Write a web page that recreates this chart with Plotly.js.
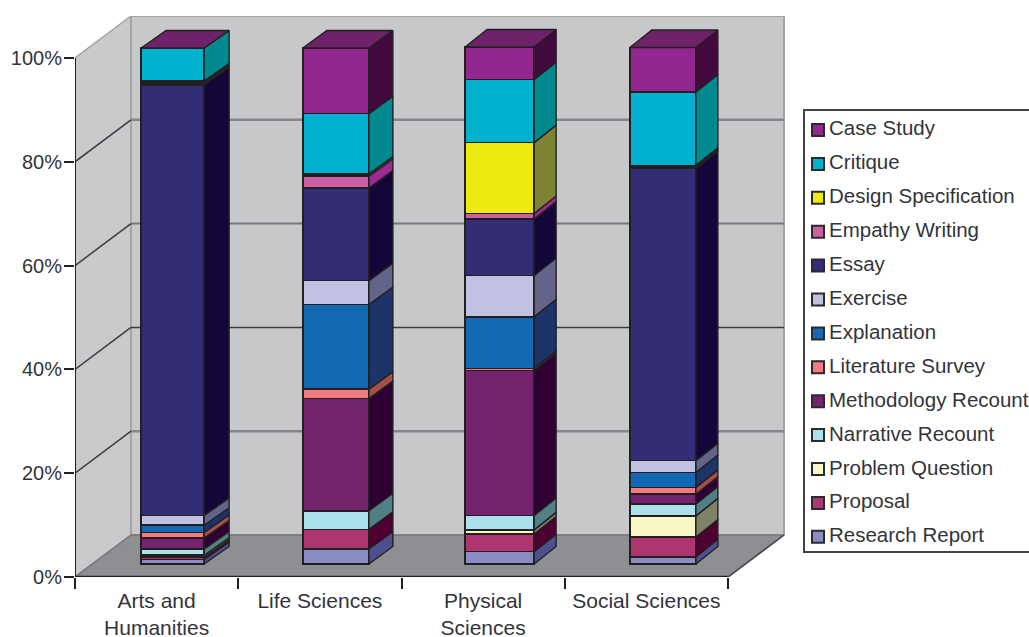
<!DOCTYPE html>
<html>
<head>
<meta charset="utf-8">
<script src="https://cdn.plot.ly/plotly-3.0.1.min.js"></script>
<style>
html, body { margin: 0; padding: 0; background: #fff; overflow: hidden; }
#chart { width: 1029px; height: 637px; }
</style>
</head>
<body>
<div id="chart"></div>
<script>
// Share of assignment genres per discipline, stacked bottom to top.
const disciplines = ["Arts and<br>Humanities", "Life Sciences", "Physical<br>Sciences", "Social Sciences"];

const researchReport     = [0.9, 2.9, 2.4, 1.4];
const proposal           = [0.4, 3.8, 3.4, 3.8];
const problemQuestion    = [0.4, 0, 0.8, 4.1];
const narrativeRecount   = [1.2, 3.6, 2.8, 2.3];
const methodologyRecount = [2.1, 21.7, 28.0, 1.9];
const literatureSurvey   = [1.1, 1.8, 0.4, 1.3];
const explanation        = [1.4, 16.4, 10.0, 2.9];
const exercise           = [1.9, 4.6, 8.0, 2.3];
const essay              = [83.3, 17.9, 10.9, 56.5];
const empathyWriting     = [0.35, 2.3, 1.1, 0.3];
const designSpecification = [0.35, 0.4, 13.7, 0.3];
const critique           = [6.4, 11.7, 12.2, 14.2];
const caseStudy          = [0, 12.7, 6.3, 8.6];

const seriesNames = ["Research Report", "Proposal", "Problem Question", "Narrative Recount",
  "Methodology Recount", "Literature Survey", "Explanation", "Exercise", "Essay",
  "Empathy Writing", "Design Specification", "Critique", "Case Study"];
const seriesValues = [researchReport, proposal, problemQuestion, narrativeRecount,
  methodologyRecount, literatureSurvey, explanation, exercise, essay,
  empathyWriting, designSpecification, critique, caseStudy];
const frontColors = ["#8a8cc4", "#ae3670", "#f9f7c4", "#ace0ea", "#74236f", "#f47b80", "#1568b4",
  "#c1c1e1", "#322d74", "#cc5fa4", "#eee90f", "#00b2cd", "#92278f"];
const sideColors = ["#4d4f8f", "#4f0030", "#7f8268", "#528087", "#2f0034", "#a34f4a", "#1c3468",
  "#62648a", "#130739", "#9a2a94", "#7f8434", "#008a8f", "#430a3f"];

const percentTicks = [0, 20, 40, 60, 80, 100];
const percentLabels = ["0%", "20%", "40%", "60%", "80%", "100%"];

// Projection of the chart box, in axis units.
const W = 1029, H = 637;
const plot = { left: 75, right: 785, top: 16, bottom: 577 };
const unitX = 163.25, unitY = 5.19;
const xMin = -0.5;
const xMax = xMin + (plot.right - plot.left) / unitX;
const yMax = (plot.bottom - plot.top) / unitY;
const wallDx = 56 / unitX, wallDy = 42 / unitY;
const barDy = 17.5 / 5.17;
const xEnd = xMin + disciplines.length;
const ink = "#231f20";

// Column placement: centre offset, width and side depth per discipline, in pixels.
const columnOffset = [16, 16, 16.5, 16.5];
const columnWidth = [63, 66, 69, 66];
const columnDepth = [25, 24, 22, 22];

const positions = disciplines.map((_, i) => i);
const barX = positions.map((p, i) => p + columnOffset[i] / unitX);
const barW = columnWidth.map(w => w / unitX);
const barD = columnDepth.map(d => d / unitX);
const px = v => v / W;
const py = v => 1 - v / H;

function region(xs, ys, fill, lineColor, lineWidth) {
  return { type: "scatter", mode: "lines", x: xs, y: ys, fill: "toself", fillcolor: fill,
    line: { color: lineColor, width: lineWidth }, cliponaxis: false, hoverinfo: "skip", showlegend: false };
}
function rule(xs, ys, color, width) {
  return { type: "scatter", mode: "lines", x: xs, y: ys, line: { color: color, width: width },
    cliponaxis: false, hoverinfo: "skip", showlegend: false };
}

const traces = [];

// Chart box: left wall, back wall, floor.
traces.push(region([xMin, xMin + wallDx, xMin + wallDx, xMin, xMin],
  [0, wallDy, 100 + wallDy, 100, 0], "#c9cacc", "#a3a4a6", 1.5));
traces.push(region([xMin + wallDx, xEnd + wallDx, xEnd + wallDx, xMin + wallDx, xMin + wallDx],
  [wallDy, wallDy, 100 + wallDy, 100 + wallDy, wallDy], "#c7c8ca", "#a3a4a6", 2));
traces.push(region([xMin, xMin + wallDx, xEnd + wallDx, xEnd, xMin],
  [0, wallDy, wallDy, 0, 0], "#8e8f92", "#77787a", 1.5));

// Gridlines wrap from the left wall onto the back wall.
const gridStyle = { 20: ["#85868a", 2.5], 40: ["#3d3d40", 1.5], 60: ["#77787b", 2], 80: ["#85868a", 2.5] };
percentTicks.filter(t => t > 0 && t < 100).forEach(t => {
  traces.push(rule([xMin + wallDx, xEnd + wallDx], [t + wallDy, t + wallDy], gridStyle[t][0], gridStyle[t][1]));
  traces.push(rule([xMin, xMin + wallDx], [t, t + wallDy], "#3d3d40", 1.5));
});

// Axis lines along the front of the box.
traces.push(rule([xMin, xMin], [0, 100], ink, 2));
traces.push(rule([xMin, xEnd], [0, 0], ink, 2.5));
traces.push(rule([xEnd, xEnd + wallDx], [0, wallDy], "#4a4a4c", 1.5));

// Front faces of the stacked columns.
seriesNames.forEach((name, s) => {
  traces.push({ type: "bar", name: name, x: barX, y: seriesValues[s], yaxis: "y2", width: barW,
    marker: { color: frontColors[s], line: { color: ink, width: 1.6 } }, showlegend: false });
});

// Side faces follow the running totals of the stack.
const totals = positions.map(() => 0);
seriesNames.forEach((name, s) => {
  const xs = [], ys = [];
  positions.forEach((_, c) => {
    const v = seriesValues[s][c];
    const low = totals[c], high = low + v;
    totals[c] = high;
    if (v > 0) {
      const r = barX[c] + barW[c] / 2;
      xs.push(r, r + barD[c], r + barD[c], r, r, null);
      ys.push(low, low + barDy, high + barDy, high, low, null);
    }
  });
  const face = region(xs, ys, sideColors[s], ink, 1.4);
  face.yaxis = "y2";
  traces.push(face);
});

// Top faces close each column.
const topX = [], topY = [];
positions.forEach((_, c) => {
  const l = barX[c] - barW[c] / 2, r = barX[c] + barW[c] / 2;
  topX.push(l, r, r + barD[c], l + barD[c], l, null);
  topY.push(totals[c], totals[c], totals[c] + barDy, totals[c] + barDy, totals[c], null);
});
const topFace = region(topX, topY, "#6e2269", ink, 1.4);
topFace.yaxis = "y2";
traces.push(topFace);

// Key box, listed top to bottom as the reverse of the stack.
const shapes = [{ type: "rect", xref: "paper", yref: "paper", x0: px(804), x1: px(1040), y0: py(552), y1: py(110),
  fillcolor: "#ffffff", line: { color: "#444446", width: 2 } }];
const annotations = [];
seriesNames.slice().reverse().forEach((name, i) => {
  const s = seriesNames.length - 1 - i;
  const cy = 130 + i * 33.9;
  shapes.push({ type: "rect", xref: "paper", yref: "paper", x0: px(812), x1: px(824), y0: py(cy + 6), y1: py(cy - 6),
    fillcolor: frontColors[s], line: { color: "#2b2b2d", width: 2 } });
  annotations.push({ xref: "paper", yref: "paper", x: px(827), y: py(cy - 2), xanchor: "left", yanchor: "middle",
    text: name, showarrow: false, align: "left", font: { family: "Liberation Sans, Arial, sans-serif", size: 20.5, color: "#33343a" } });
});

const layout = {
  width: W, height: H,
  margin: { l: 0, r: 0, t: 0, b: 0 },
  paper_bgcolor: "#ffffff", plot_bgcolor: "rgba(0,0,0,0)",
  font: { family: "Liberation Sans, Arial, sans-serif", size: 20, color: "#33343a" },
  barmode: "stack", showlegend: false,
  shapes: shapes, annotations: annotations,
  xaxis: {
    domain: [plot.left / W, plot.right / W], range: [xMin, xMax], automargin: false,
    tickmode: "array", tickvals: positions, ticktext: disciplines, ticks: "", tickangle: 0,
    tickfont: { size: 21 }, ticklabelstandoff: 9, showgrid: false, zeroline: false, showline: false,
    minor: { tickmode: "array", tickvals: positions.map(p => p - 0.5).concat([xEnd]),
      ticks: "outside", ticklen: 11, tickwidth: 2, tickcolor: ink, showgrid: false }
  },
  yaxis: {
    domain: [1 - plot.bottom / H, 1 - plot.top / H], range: [0, yMax], automargin: false,
    tickmode: "array", tickvals: percentTicks, ticktext: percentLabels, ticks: "outside", ticklen: 10,
    tickwidth: 2, tickcolor: ink, ticklabelstandoff: -2, showgrid: false, zeroline: false, showline: false
  },
  yaxis2: {
    overlaying: "y", domain: [1 - plot.bottom / H, 1 - plot.top / H],
    range: [-(plot.bottom - 564) / 5.17, (564 - plot.top) / 5.17], visible: false, fixedrange: true
  }
};

Plotly.newPlot("chart", traces, layout, { displayModeBar: false, staticPlot: true });
</script>
</body>
</html>
